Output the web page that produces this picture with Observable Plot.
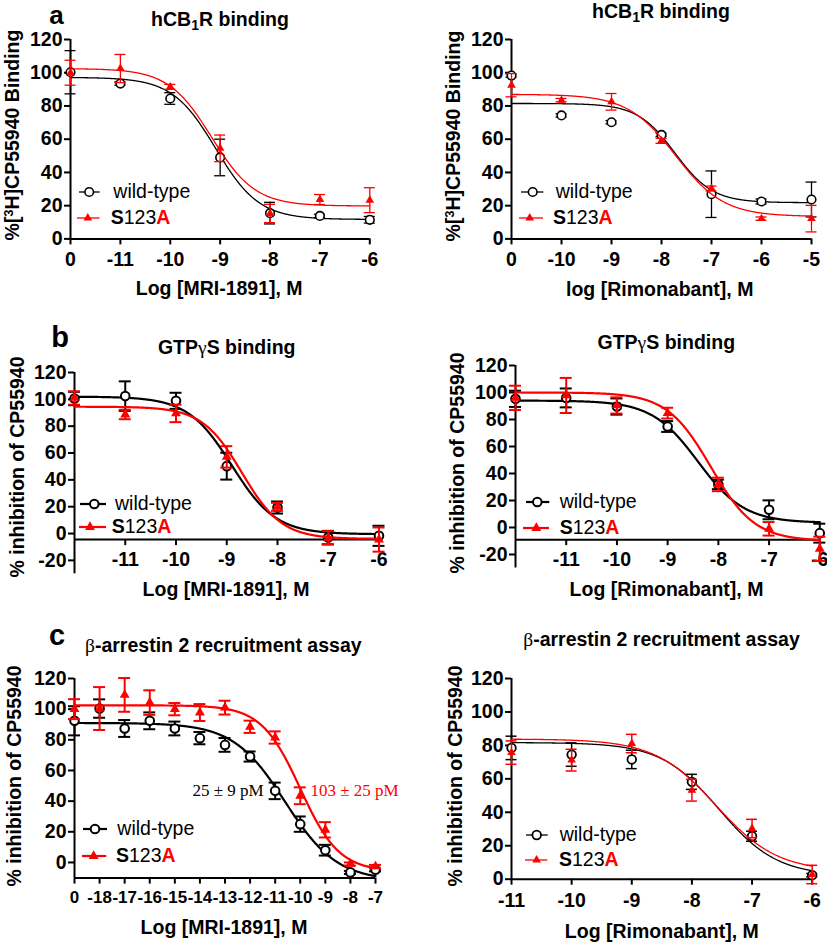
<!DOCTYPE html>
<html><head><meta charset="utf-8">
<script src="https://cdn.jsdelivr.net/npm/d3@7"></script>
<script src="https://cdn.jsdelivr.net/npm/@observablehq/plot@0.6"></script>
<style>
html,body{margin:0;padding:0;background:#fff;}
#fig{position:relative;width:827px;height:942px;overflow:hidden;background:#fff;font-family:"Liberation Sans",Arial,Helvetica,sans-serif;color:#000;}
#fig .t{position:absolute;white-space:nowrap;line-height:1;transform:translate(-50%,-50%);}
#fig .rot{transform:translate(-50%,-50%) rotate(-90deg);}
#fig .g{font-family:"Liberation Serif","DejaVu Serif",serif;font-weight:normal;}
#fig .lt{position:absolute;white-space:nowrap;line-height:1;transform:translate(0,-50%);font-size:19.5px;font-weight:normal;}
#fig svg.sw{position:absolute;overflow:visible;}
</style></head>
<body><div id="fig"></div>
<script>
// ===================== DATA =====================
// a (left): hCB1R binding, MRI-1891
const aL_xDomain = [-12, -6];
const aL_x = [-12, -11, -10, -9, -8, -7, -6];
const aL_xTicks = [-12, -11, -10, -9, -8, -7, -6];
const aL_xLabels = ["0", "-11", "-10", "-9", "-8", "-7", "-6"];
const aL_wt = [100.3, 93.5, 84.5, 49, 15.5, 13.8, 11.5];
const aL_wtSd = [13, 1, 3.5, 11, 6.5, 1, 2];
const aL_sa = [100, 102.5, 91.5, 54.5, 15.3, 23.7, 23.3];
const aL_saSd = [7.5, 8.5, 1.5, 8, 5.5, 3, 7.5];
const aL_wtFit = [97.2, 11.7, -9.09, 1.0];   // top, bottom, logIC50, hill
const aL_saFit = [102.5, 19.8, -9.17, 1.0];

// a (right): hCB1R binding, Rimonabant
const aR_xDomain = [-11, -5];
const aR_x = [-11, -10, -9, -8, -7, -6, -5];
const aR_xTicks = [-11, -10, -9, -8, -7, -6, -5];
const aR_xLabels = ["0", "-10", "-9", "-8", "-7", "-6", "-5"];
const aR_wt = [98.3, 74.3, 70.2, 62.6, 26.9, 22.5, 23.7];
const aR_wtSd = [1, 1, 1, 1, 14, 1.5, 10.5];
const aR_sa = [92.5, 83.5, 82.5, 59, 30.3, 12.2, 12.2];
const aR_saSd = [7, 1, 5, 1.5, 1.5, 1, 8];
const aR_wtFit = [81.5, 21.8, -7.73, 1.15];
const aR_saFit = [87, 13.5, -7.72, 0.9];

// b (left): GTPgS binding, MRI-1891
const bL_xDomain = [-12, -6];
const bL_x = [-12, -11, -10, -9, -8, -7, -6];
const bL_xTicks = [-11, -10, -9, -8, -7, -6];
const bL_xLabels = ["-11", "-10", "-9", "-8", "-7", "-6"];
const bL_wt = [100.6, 102.4, 98.9, 50.2, 19.4, -3, -1.7];
const bL_wtSd = [5, 11, 6, 10, 4.5, 5, 7.5];
const bL_sa = [101, 88.7, 89.5, 57.1, 19.9, -3.2, -4.5];
const bL_saSd = [5, 3.5, 6.5, 8, 3, 5, 9];
const bL_wtFit = [102, -0.5, -8.9, 1.0];
const bL_saFit = [94.5, -4, -8.7, 1.1];

// b (right): GTPgS binding, Rimonabant
const bR_xDomain = [-12, -6];
const bR_x = [-12, -11, -10, -9, -8, -7, -6];
const bR_xTicks = [-11, -10, -9, -8, -7, -6];
const bR_xLabels = ["-11", "-10", "-9", "-8", "-7", "-6"];
const bR_wt = [95.3, 96, 89.6, 74.8, 31.9, 13.1, -4.2];
const bR_wtSd = [6, 7, 6, 4, 3.5, 7, 7];
const bR_sa = [96, 97.8, 90.4, 84.7, 31.9, -1, -15.8];
const bR_saSd = [9, 13, 6, 4, 5, 5, 9];
const bR_wtFit = [94, 3.5, -8.4, 0.95];
const bR_saFit = [100, -10, -8.15, 1.0];

// c (left): beta-arrestin 2 recruitment, MRI-1891
const cL_xDomain = [-19, -7];
const cL_x = [-19, -18, -17, -16, -15, -14, -13, -12, -11, -10, -9, -8, -7];
const cL_xTicks = [-19, -18, -17, -16, -15, -14, -13, -12, -11, -10, -9, -8, -7];
const cL_xLabels = ["0", "-18", "-17", "-16", "-15", "-14", "-13", "-12", "-11", "-10", "-9", "-8", "-7"];
const cL_wt = [92.4, 100.4, 87.4, 92.4, 87.4, 81.1, 76.7, 69.1, 46.7, 25, 8, -6.5, -4.8];
const cL_wtSd = [9.5, 6, 5.5, 5.5, 4.5, 4, 4.5, 3.3, 5.4, 5, 3.5, 1, 1];
const cL_sa = [100, 100.4, 109.3, 104.3, 100, 97.8, 101, 88.5, 81.5, 43.5, 21.3, -1, -2.6];
const cL_saSd = [6.5, 14, 11, 8, 4, 5.5, 4.5, 4, 4, 5.5, 5, 1, 1];
const cL_wtFit = [91, -12, -10.6, 0.42];
const cL_saFit = [102.5, -6, -10.0, 0.56];
const cL_notes = ["25 ± 9 pM", "103 ± 25 pM"];

// c (right): beta-arrestin 2 recruitment, Rimonabant
const cR_xDomain = [-11, -6];
const cR_x = [-11, -10, -9, -8, -7, -6];
const cR_xTicks = [-11, -10, -9, -8, -7, -6];
const cR_xLabels = ["-11", "-10", "-9", "-8", "-7", "-6"];
const cR_wt = [78.5, 74.5, 71.6, 58.2, 25.7, 2.4];
const cR_wtSd = [7, 7, 5.5, 4.5, 3, 1];
const cR_sa = [75.7, 71.2, 81.1, 53.2, 30.3, 2.8];
const cR_saSd = [7, 6.5, 5.5, 6.5, 5.5, 5.5];
const cR_wtFit = [81.7, 2, -7.55, 0.9];
const cR_saFit = [83.8, 4.5, -7.6, 0.85];

const yTicksPos = [0, 20, 40, 60, 80, 100, 120];
const yTicksNeg = [-20, 0, 20, 40, 60, 80, 100, 120];

// ===================== LAYOUT =====================
const FS = 19.5;
const thin = {lw: 1.3, ew: 1.3, r: 4.3, sw: 1.6, tri: 3.2, cap: 5.5, xfs: FS};
const thick = {lw: 2.2, ew: 2, r: 4.3, sw: 2, tri: 3.7, cap: 6, xfs: FS};
const LAYOUT = {
  aL: {x0: 70, x1: 369.3, yTop: 39.3, yBot: 238.7, yMin: 0, xAxisAt: 0, yAxisFrom: 0, labDy: 21.3, ...thin},
  aR: {x0: 511.3, x1: 811.3, yTop: 39.3, yBot: 238.7, yMin: 0, xAxisAt: 0, yAxisFrom: 0, labDy: 21.3, ...thin},
  bL: {x0: 73.8, x1: 378.3, yTop: 372.3, yBot: 573.6, yMin: -30, xAxisAt: -4.5, yAxisFrom: -30, labDy: 20, ...thick},
  bR: {x0: 514.7, x1: 819, yTop: 365, yBot: 567.5, yMin: -30, xAxisAt: -9, yAxisFrom: -30, labDy: 20, ...thick},
  cL: {x0: 74, x1: 375, yTop: 677.7, yBot: 877.3, yMin: -10.2, xAxisAt: -10.2, yAxisFrom: -10.2, labDy: 19.4, ...thick, xfs: 17},
  cR: {x0: 511.3, x1: 812, yTop: 678.3, yBot: 879, yMin: 0, xAxisAt: 0, yAxisFrom: 0, labDy: 22, ...thin, ew: 1.5, sw: 1.8}
};

const PANELS = {
  aL: {xDomain: aL_xDomain, x: aL_x, xTicks: aL_xTicks, xLabels: aL_xLabels, yTicks: yTicksPos, wt: aL_wt, wtSd: aL_wtSd, sa: aL_sa, saSd: aL_saSd, wtFit: aL_wtFit, saFit: aL_saFit},
  aR: {xDomain: aR_xDomain, x: aR_x, xTicks: aR_xTicks, xLabels: aR_xLabels, yTicks: yTicksPos, wt: aR_wt, wtSd: aR_wtSd, sa: aR_sa, saSd: aR_saSd, wtFit: aR_wtFit, saFit: aR_saFit},
  bL: {xDomain: bL_xDomain, x: bL_x, xTicks: bL_xTicks, xLabels: bL_xLabels, yTicks: yTicksNeg, wt: bL_wt, wtSd: bL_wtSd, sa: bL_sa, saSd: bL_saSd, wtFit: bL_wtFit, saFit: bL_saFit},
  bR: {xDomain: bR_xDomain, x: bR_x, xTicks: bR_xTicks, xLabels: bR_xLabels, yTicks: yTicksNeg, wt: bR_wt, wtSd: bR_wtSd, sa: bR_sa, saSd: bR_saSd, wtFit: bR_wtFit, saFit: bR_saFit},
  cL: {xDomain: cL_xDomain, x: cL_x, xTicks: cL_xTicks, xLabels: cL_xLabels, yTicks: yTicksPos, wt: cL_wt, wtSd: cL_wtSd, sa: cL_sa, saSd: cL_saSd, wtFit: cL_wtFit, saFit: cL_saFit},
  cR: {xDomain: cR_xDomain, x: cR_x, xTicks: cR_xTicks, xLabels: cR_xLabels, yTicks: yTicksPos, wt: cR_wt, wtSd: cR_wtSd, sa: cR_sa, saSd: cR_saSd, wtFit: cR_wtFit, saFit: cR_saFit}
};

const LEGENDS = {
  aL: {wt: {y: 191.7, x1: 79.3, x2: 100, sx: 89.5, tx: 113.3}, sa: {y: 217.8, x1: 76.7, x2: 99.3, sx: 87.5, tx: 110.7}},
  aR: {wt: {y: 191.7, x1: 521.3, x2: 543.7, sx: 533, tx: 555.7}, sa: {y: 218, x1: 519, x2: 543, sx: 529.7, tx: 553}},
  bL: {wt: {y: 504.3, x1: 80, x2: 106, sx: 94.3, tx: 115}, sa: {y: 527.3, x1: 79, x2: 106, sx: 90, tx: 111.7}},
  bR: {wt: {y: 501.7, x1: 525.7, x2: 549, sx: 537, tx: 559.7}, sa: {y: 528.3, x1: 523, x2: 549, sx: 536.3, tx: 559.7}},
  cL: {wt: {y: 829.3, x1: 83, x2: 107, sx: 95, tx: 117.3}, sa: {y: 855.7, x1: 81.7, x2: 106, sx: 93.3, tx: 116}},
  cR: {wt: {y: 835, x1: 526.3, x2: 548, sx: 537, tx: 559.7}, sa: {y: 860, x1: 524.7, x2: 547, sx: 536.3, tx: 559}}
};

const RED = "#ff0000";
const fig = document.getElementById("fig");

// ===================== PLOTS =====================
function drawPanel(key) {
  const d = PANELS[key], g = LAYOUT[key];
  const ML = 56, MR = 16, MT = 14, MB = 40;
  const xDom = d.xDomain;
  const W = g.x1 - g.x0 + ML + MR;
  const H = g.yBot - g.yTop + MT + MB;
  const pxY = (g.yBot - g.yTop) / (120 - g.yMin);
  const pxX = (g.x1 - g.x0) / (xDom[1] - xDom[0]);
  const tickLen = 6 / pxY;
  const capHalf = g.cap / pxX;
  const pts = (ys, sds) => d.x.map((x, i) => ({x, y: ys[i], e: sds[i]}));
  const wt = pts(d.wt, d.wtSd), sa = pts(d.sa, d.saSd);
  // fitted four-parameter logistic curve (GraphPad-style fit, parameters)
  const fit = ([top, bottom, c, h]) => d3.range(0, 601).map(k => {
    const x = xDom[0] + (xDom[1] - xDom[0]) * k / 600;
    return {x, y: bottom + (top - bottom) / (1 + Math.pow(10, (x - c) * h))};
  });
  const bars = (arr, color) => {
    const a = arr.filter(p => p.e > 0);
    return [
      Plot.ruleX(a, {x: "x", y1: p => p.y - p.e, y2: p => p.y + p.e, stroke: color, strokeWidth: g.ew}),
      Plot.ruleY(a, {y: p => p.y + p.e, x1: p => p.x - capHalf, x2: p => p.x + capHalf, stroke: color, strokeWidth: g.ew}),
      Plot.ruleY(a, {y: p => p.y - p.e, x1: p => p.x - capHalf, x2: p => p.x + capHalf, stroke: color, strokeWidth: g.ew})
    ];
  };
  const svg = Plot.plot({
    width: W, height: H,
    marginLeft: ML, marginRight: MR, marginTop: MT, marginBottom: MB,
    x: {domain: xDom, axis: null},
    y: {domain: [g.yMin, 120], axis: null},
    style: {background: "transparent", overflow: "visible", fontFamily: "Liberation Sans, Arial, sans-serif", fontWeight: "bold", color: "black"},
    marks: [
      Plot.ruleX([xDom[0]], {y1: () => g.yAxisFrom, y2: () => 120, stroke: "black", strokeWidth: 2}),
      Plot.ruleY([g.xAxisAt], {x1: () => xDom[0], x2: () => xDom[1], stroke: "black", strokeWidth: 2}),
      Plot.axisY({ticks: d.yTicks, tickFormat: v => String(v), tickSize: 6, tickPadding: 2, fontSize: FS, fontWeight: "bold", label: null, strokeWidth: 2}),
      Plot.ruleX(d.xTicks, {x: v => v, y1: () => g.xAxisAt, y2: () => g.xAxisAt - tickLen, stroke: "black", strokeWidth: 2}),
      Plot.text(d.xTicks, {x: v => v, y: () => g.xAxisAt, text: (v, i) => d.xLabels[i], dy: g.labDy, fontSize: g.xfs, fontWeight: "bold", fill: "black"}),
      ...bars(wt, "black"),
      Plot.line(fit(d.wtFit), {x: "x", y: "y", stroke: "black", strokeWidth: g.lw}),
      Plot.dot(wt, {x: "x", y: "y", r: g.r, stroke: "black", strokeWidth: g.sw, fill: "white"}),
      ...bars(sa, RED),
      Plot.line(fit(d.saFit), {x: "x", y: "y", stroke: RED, strokeWidth: g.lw}),
      Plot.dot(sa, {x: "x", y: "y", symbol: "triangle", r: g.tri, fill: RED, stroke: "none"})
    ]
  });
  svg.style.position = "absolute";
  svg.style.left = (g.x0 - ML) + "px";
  svg.style.top = (g.yTop - MT) + "px";
  fig.appendChild(svg);
}

function addLegend(key) {
  const L = LEGENDS[key], g = LAYOUT[key];
  const NS = "http://www.w3.org/2000/svg";
  for (const kind of ["wt", "sa"]) {
    const e = L[kind];
    const pad = 8;
    const s = document.createElementNS(NS, "svg");
    s.setAttribute("width", e.x2 - e.x1 + 2 * pad);
    s.setAttribute("height", 2 * pad);
    s.setAttribute("class", "sw");
    s.style.left = (e.x1 - pad) + "px";
    s.style.top = (e.y - pad) + "px";
    const color = kind === "wt" ? "black" : RED;
    const sx = e.sx - e.x1 + pad;
    let inner = `<line x1="${pad}" y1="${pad}" x2="${pad + e.x2 - e.x1}" y2="${pad}" stroke="${color}" stroke-width="${g.lw}"/>`;
    if (kind === "wt") inner += `<circle cx="${sx}" cy="${pad}" r="${g.r}" fill="white" stroke="black" stroke-width="${g.sw}"/>`;
    else inner += `<path transform="translate(${sx},${pad})" d="${d3.symbol(d3.symbolTriangle, Math.PI * g.tri * g.tri)()}" fill="${RED}"/>`;
    s.innerHTML = inner;
    fig.appendChild(s);
    const t = document.createElement("div");
    t.className = "lt";
    t.style.left = e.tx + "px";
    t.style.top = e.y + "px";
    t.innerHTML = kind === "wt" ? "wild-type" : `<b>S</b>123<b style="color:${RED}">A</b>`;
    fig.appendChild(t);
  }
}

function addText(html, cx, cy, size, opts = {}) {
  const el = document.createElement("div");
  el.className = "t" + (opts.rot ? " rot" : "");
  el.innerHTML = html;
  el.style.left = cx + "px";
  el.style.top = cy + "px";
  el.style.fontSize = size + "px";
  el.style.fontWeight = opts.weight || "bold";
  if (opts.lh) el.style.lineHeight = opts.lh;
  if (opts.color) el.style.color = opts.color;
  if (opts.font) el.style.fontFamily = opts.font;
  fig.appendChild(el);
}

for (const k of Object.keys(PANELS)) { drawPanel(k); addLegend(k); }

const SUB1 = '<span style="font-size:0.72em;position:relative;top:0.3em">1</span>';
const SUP3 = '<span style="font-size:0.65em;position:relative;top:-0.45em">3</span>';
const titleCB = `hCB${SUB1}R binding`;
const titleGTP = 'GTP<span class="g">γ</span>S binding';
const titleArr = '<span class="g">β</span>-arrestin 2 recruitment assay';
const yBind = `%[${SUP3}H]CP55940 Binding`;
const yInh = '% inhibition of CP55940';

addText("a", 56.5, 14.5, 26);
addText("b", 60, 336.5, 29, {lh: 0.5});
addText("c", 57, 635, 29, {lh: 0.5});

addText(titleCB, 220, 19.5, FS);
addText(titleCB, 661, 11.5, FS);
addText(titleGTP, 226.7, 347.5, FS);
addText(titleGTP, 666.3, 343, FS);
addText(titleArr, 223.3, 645.5, FS);
addText(titleArr, 661.5, 640, FS);

addText(yBind, 12.5, 134.5, FS, {rot: true});
addText(yBind, 453.5, 135.5, FS, {rot: true});
addText(yInh, 17.5, 466.5, FS, {rot: true});
addText(yInh, 457.5, 462.5, FS, {rot: true});
addText(yInh, 15, 776, FS, {rot: true});
addText(yInh, 455.5, 776, FS, {rot: true});

addText("Log [MRI-1891], M", 219.2, 289, FS);
addText("log [Rimonabant], M", 659.7, 290, FS);
addText("Log [MRI-1891], M", 226, 590, FS);
addText("Log [Rimonabant], M", 666.5, 590, FS);
addText("Log [MRI-1891], M", 224, 928, FS);
addText("Log [Rimonabant], M", 661.8, 931.5, FS);

addText(cL_notes[0], 228, 790, 17, {weight: "normal", font: '"Liberation Serif", "Times New Roman", serif'});
addText(cL_notes[1], 354.5, 790, 17, {weight: "normal", font: '"Liberation Serif", "Times New Roman", serif', color: RED});
</script></body></html>
